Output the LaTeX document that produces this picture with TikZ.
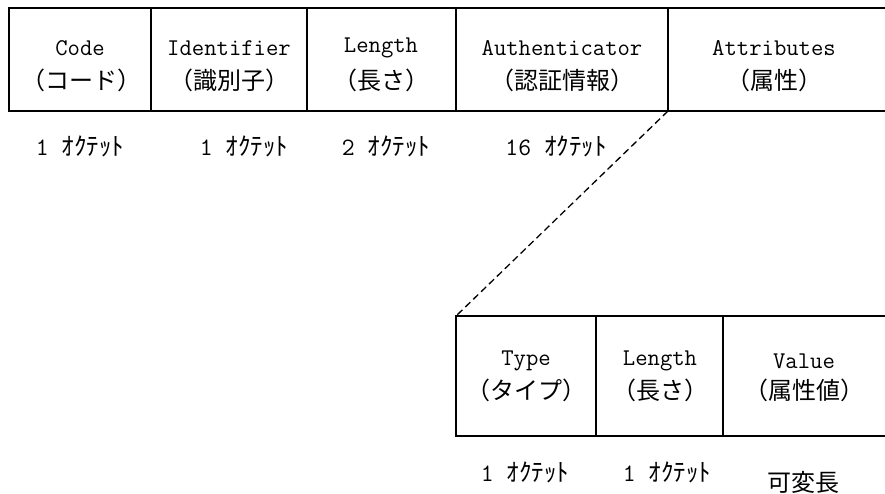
\documentclass[tikz,border=0pt]{standalone}
\usepackage{fontspec}
\newfontfamily\jp{Noto Sans CJK JP}[Scale=1]
\begin{document}
\begin{tikzpicture}[x=1pt,y=-1pt,
  cell/.style={draw=black,line width=1.8pt,minimum height=103pt,inner sep=0pt,outer sep=0pt,anchor=north west},
  ocell/.style={minimum height=103pt,inner sep=0pt,outer sep=0pt,anchor=north west},
  lat/.style={font=\fontsize{24}{26}\selectfont\ttfamily,inner sep=0pt},
  jpt/.style={font=\fontsize{24}{26}\selectfont\jp,inner sep=0pt},
  oct/.style={font=\fontsize{25}{26}\selectfont,inner sep=0pt},
  edge/.style={line width=1.8pt},
  link/.style={line width=1.3pt,dash pattern=on 7pt off 4pt}]
\useasboundingbox (0,0) rectangle (885,494);
% top row
\node[cell,minimum width=142pt] (code) at (9,8) {};
\node[cell,minimum width=156pt] (ident) at (151,8) {};
\node[cell,minimum width=149pt] (len) at (307,8) {};
\node[cell,minimum width=212pt] (auth) at (456,8) {};
\node[ocell,minimum width=217pt] (attr) at (668,8) {};
\draw[edge] (attr.north west) -- (attr.north east);
\draw[edge] (attr.south west) -- (attr.south east);
% top labels
\node[lat] (t1a) at (80,48) {Code};
\node[jpt] (t1b) at (81,80) {（コード）};
\node[lat] (t2a) at (229,48) {Identifier};
\node[jpt] (t2b) at (229,80) {（識別子）};
\node[lat] (t3a) at (381,48) {Length};
\node[jpt] (t3b) at (381,80) {（長さ）};
\node[lat] (t4a) at (562,48) {Authenticator};
\node[jpt] (t4b) at (562,80) {（認証情報）};
\node[lat] (t5a) at (774,48) {Attributes};
\node[jpt] (t5b) at (774,80) {（属性）};
% octets top
\node[oct] (o1) at (80,146) {\ttfamily 1 {\jp ｵｸﾃｯﾄ}};
\node[oct] (o2) at (244,146) {\ttfamily 1 {\jp ｵｸﾃｯﾄ}};
\node[oct] (o3) at (386,146) {\ttfamily 2 {\jp ｵｸﾃｯﾄ}};
\node[oct] (o4) at (556,146) {\ttfamily 16 {\jp ｵｸﾃｯﾄ}};
% bottom row
\node[cell,minimum width=140pt,minimum height=120pt] (type) at (456,316) {};
\node[cell,minimum width=127pt,minimum height=120pt] (blen) at (596,316) {};
\node[ocell,minimum width=162pt,minimum height=120pt] (val) at (723,316) {};
\draw[edge] (val.north west) -- (val.north east);
\draw[edge] (val.south west) -- (val.south east);
\node[lat] (b1a) at (526,361) {Type};
\node[jpt] (b1b) at (526,390) {（タイプ）};
\node[lat] (b2a) at (660,361) {Length};
\node[jpt] (b2b) at (660,390) {（長さ）};
\node[lat] (b3a) at (804,361) {Value};
\node[jpt] (b3b) at (804,390) {（属性値）};
\node[oct] (p1) at (525,472) {\ttfamily 1 {\jp ｵｸﾃｯﾄ}};
\node[oct] (p2) at (667,472) {\ttfamily 1 {\jp ｵｸﾃｯﾄ}};
\node[jpt] (p3) at (803,482) {可変長};
% dashed link
\draw[link] (auth.south east) -- (type.north west);
\end{tikzpicture}
\end{document}
